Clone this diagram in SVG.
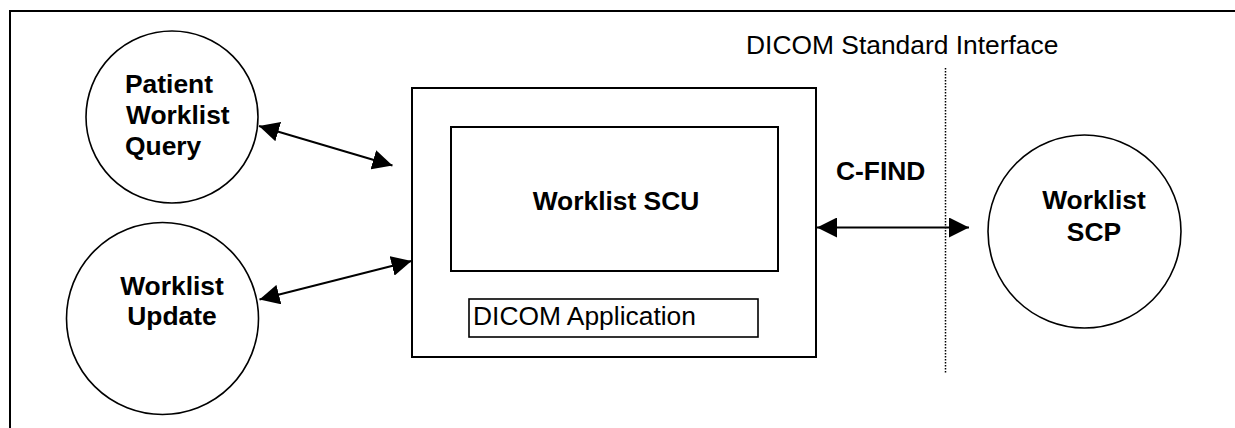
<svg xmlns="http://www.w3.org/2000/svg" width="1235" height="428" viewBox="0 0 1235 428">
<style>
.s{fill:none;stroke:#000;stroke-width:2}
.c{fill:#fff;stroke:#000;stroke-width:1.6}
.b{font-family:"Liberation Sans",Arial,sans-serif;font-weight:bold;font-size:26.4px;fill:#000}
.n{font-family:"Liberation Sans",Arial,sans-serif;font-size:26.4px;fill:#000}
.a{fill:none;stroke:#000;stroke-width:2;marker-start:url(#ah);marker-end:url(#ah)}
</style>
<defs>
<marker id="ah" markerUnits="userSpaceOnUse" markerWidth="20" markerHeight="20" refX="20" refY="10" orient="auto-start-reverse" viewBox="0 0 20 20">
<path d="M0,0 L20,10 L0,20 z" fill="#000"/>
</marker>
</defs>
<rect width="1235" height="428" fill="#fff"/>
<path class="s" d="M10,428 V11 H1235"/>
<g id="interface">
<line x1="945.5" y1="68" x2="945.5" y2="373" stroke="#000" stroke-width="1.5" stroke-dasharray="1.5,1.5"/>
<text class="n" x="746" y="53.5">DICOM Standard Interface</text>
</g>
<g id="patient-worklist-query">
<circle class="c" cx="172" cy="117" r="86"/>
<text class="b" x="125" y="93">Patient</text>
<text class="b" x="126" y="124">Worklist</text>
<text class="b" x="125" y="155">Query</text>
</g>
<g id="worklist-update">
<circle class="c" cx="162.5" cy="318.5" r="96"/>
<text class="b" x="172" y="295" text-anchor="middle">Worklist</text>
<text class="b" x="172" y="325" text-anchor="middle">Update</text>
</g>
<g id="dicom-application">
<rect class="s" x="412" y="88" width="404" height="269"/>
<rect x="469" y="299" width="289" height="38" fill="none" stroke="#000" stroke-width="1.6"/>
<text class="n" x="473" y="325">DICOM Application</text>
</g>
<g id="worklist-scu">
<rect class="s" x="451" y="127" width="327" height="144"/>
<text class="b" x="616" y="210" text-anchor="middle">Worklist SCU</text>
</g>
<g id="worklist-scp">
<circle class="c" cx="1084.5" cy="231.5" r="96.5"/>
<text class="b" x="1094" y="209" text-anchor="middle">Worklist</text>
<text class="b" x="1094" y="241" text-anchor="middle">SCP</text>
</g>
<g id="connectors">
<line class="a" x1="259" y1="126" x2="392.5" y2="165.5"/>
<line class="a" x1="259.5" y1="299.5" x2="411.5" y2="261"/>
<line class="a" x1="817" y1="227.5" x2="969" y2="227.5"/>
<text class="b" x="836" y="180">C-FIND</text>
</g>
</svg>
